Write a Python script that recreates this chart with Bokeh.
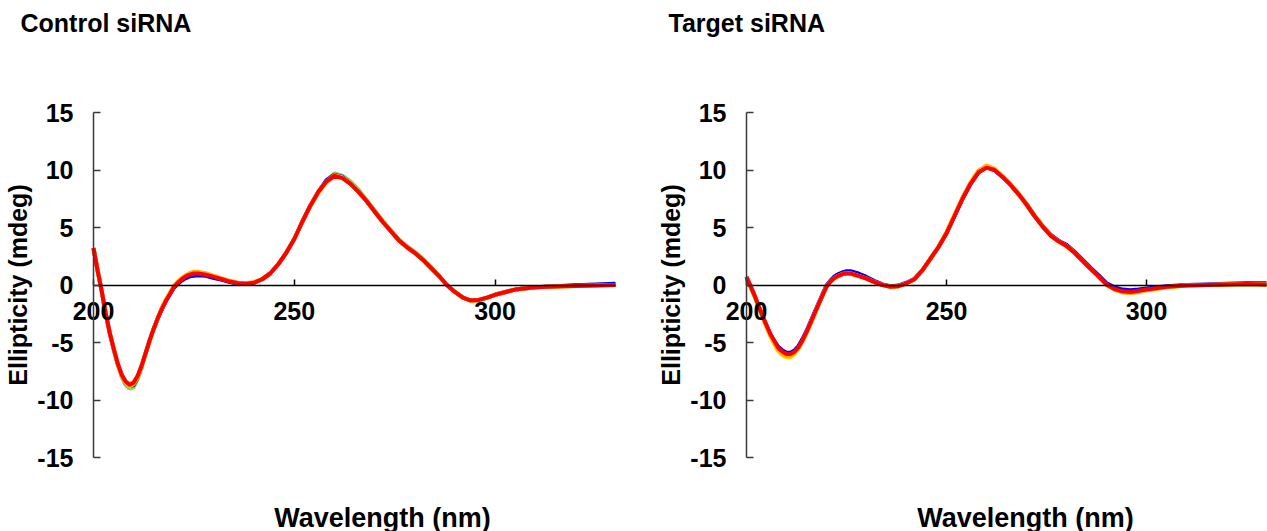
from bokeh.plotting import figure
from bokeh.layouts import row
from bokeh.models import FixedTicker, Range1d, Label, CustomJSTickFormatter
from bokeh.embed import file_html
from bokeh.resources import INLINE

# ---------------- data ----------------
wavelength = [200, 201, 202, 203, 204, 205, 206, 207, 208, 209, 210, 211, 212, 213,
              214, 215, 216, 217, 218, 219, 220, 221, 222, 223, 224, 225, 226,
              228, 230, 232, 234, 236, 238, 240, 242, 244, 246, 248, 250, 252, 254,
              256, 258, 260, 262, 264, 266, 268, 270, 272, 274, 276, 278, 280, 282,
              284, 286, 288, 290, 292, 294, 296, 298, 300,
              305, 310, 315, 320, 325, 330]

x_ticks = [200, 250, 300]
y_ticks = [-15, -10, -5, 0, 5, 10, 15]
x_limits = [200, 330]
y_limits = [-15, 15]

panel_titles = ["Control siRNA", "Target siRNA"]
x_title = "Wavelength (nm)"
y_title = "Ellipticity (mdeg)"
series_names = ["green", "blue", "yellow", "orange", "red"]

# Control siRNA
ctrl_green = [3.2, 1.3, -0.45, -2.4, -4.1, -5.6, -6.9, -8.0, -8.7, -9.0, -8.9, -8.2, -7.2, -6.0, -4.9, -3.8, -2.9, -2.1, -1.4, -0.8, -0.2, 0.2, 0.5, 0.75, 0.9, 1.0, 1.0,
              0.9, 0.7, 0.5, 0.3, 0.15, 0.1, 0.2, 0.5, 1.0, 1.8, 2.8, 4.0, 5.5, 6.9, 8.1, 9.1, 9.7, 9.5, 9.0, 8.3, 7.4, 6.5, 5.6, 4.8, 4.0, 3.4, 2.9, 2.3, 1.6, 0.8, 0.0, -0.6, -1.1, -1.35, -1.3, -1.1, -0.85,
              -0.4, -0.2, -0.1, -0.05, 0.0, 0.05]
ctrl_blue = [3.2, 1.3, -0.45, -2.4, -4.1, -5.5, -6.8, -7.8, -8.5, -8.8, -8.7, -8.0, -7.0, -5.9, -4.8, -3.8, -2.9, -2.1, -1.4, -0.8, -0.25, 0.1, 0.4, 0.6, 0.75, 0.8, 0.85,
             0.8, 0.6, 0.45, 0.25, 0.12, 0.1, 0.2, 0.5, 1.0, 1.8, 2.8, 4.0, 5.5, 6.9, 8.1, 9.1, 9.6, 9.4, 8.8, 8.1, 7.3, 6.4, 5.5, 4.7, 3.9, 3.3, 2.8, 2.2, 1.5, 0.8, 0.0, -0.6, -1.1, -1.35, -1.3, -1.1, -0.85,
             -0.4, -0.2, -0.1, -0.02, 0.05, 0.1]
ctrl_yellow = [3.2, 1.3, -0.45, -2.4, -4.1, -5.5, -6.8, -7.9, -8.5, -8.8, -8.6, -8.0, -7.0, -5.9, -4.8, -3.8, -2.9, -2.0, -1.3, -0.7, -0.1, 0.3, 0.6, 0.85, 1.0, 1.1, 1.1,
               1.0, 0.8, 0.55, 0.35, 0.2, 0.15, 0.25, 0.5, 1.0, 1.8, 2.8, 4.0, 5.5, 6.9, 8.1, 9.0, 9.55, 9.35, 8.8, 8.1, 7.3, 6.4, 5.5, 4.7, 3.9, 3.3, 2.8, 2.2, 1.5, 0.8, 0.0, -0.6, -1.1, -1.4, -1.3, -1.1, -0.85,
               -0.4, -0.2, -0.12, -0.08, -0.05, 0.0]
ctrl_orange = [3.2, 1.3, -0.45, -2.4, -4.1, -5.5, -6.8, -7.8, -8.4, -8.6, -8.45, -7.9, -7.0, -5.9, -4.8, -3.8, -2.9, -2.0, -1.3, -0.7, -0.1, 0.3, 0.6, 0.85, 1.05, 1.15, 1.15,
               1.0, 0.8, 0.55, 0.35, 0.2, 0.15, 0.25, 0.5, 1.0, 1.8, 2.8, 4.0, 5.5, 6.9, 8.0, 8.95, 9.45, 9.3, 8.8, 8.1, 7.3, 6.4, 5.5, 4.7, 3.9, 3.3, 2.8, 2.2, 1.5, 0.8, 0.0, -0.6, -1.1, -1.35, -1.3, -1.1, -0.85,
               -0.4, -0.2, -0.12, -0.08, -0.05, 0.0]
ctrl_red = [3.2, 1.3, -0.45, -2.4, -4.1, -5.5, -6.8, -7.8, -8.4, -8.7, -8.5, -7.9, -7.0, -5.9, -4.8, -3.8, -2.9, -2.1, -1.4, -0.8, -0.2, 0.2, 0.5, 0.75, 0.9, 1.0, 1.0,
            0.9, 0.7, 0.5, 0.3, 0.15, 0.1, 0.2, 0.5, 1.0, 1.8, 2.8, 4.0, 5.5, 6.9, 8.1, 9.0, 9.5, 9.3, 8.8, 8.1, 7.3, 6.4, 5.5, 4.7, 3.9, 3.3, 2.8, 2.2, 1.5, 0.8, 0.0, -0.6, -1.1, -1.35, -1.3, -1.1, -0.85,
            -0.4, -0.2, -0.12, -0.08, -0.05, 0.0]

# Target siRNA
tgt_green = [0.6, -0.2, -1.0, -1.9, -2.8, -3.6, -4.4, -5.0, -5.6, -5.9, -6.1, -6.1, -5.9, -5.5, -4.9, -4.2, -3.4, -2.6, -1.7, -0.9, -0.15, 0.3, 0.6, 0.8, 0.95, 1.0, 1.0,
             0.8, 0.55, 0.25, 0.0, -0.15, -0.1, 0.15, 0.5, 1.3, 2.3, 3.3, 4.5, 6.0, 7.5, 8.8, 9.8, 10.25, 10.05, 9.5, 8.8, 8.0, 7.1, 6.1, 5.2, 4.4, 3.85, 3.4, 2.8, 2.1, 1.4, 0.75, 0.05, -0.35, -0.55, -0.6, -0.5, -0.4,
             -0.15, -0.05, 0.0, 0.05, 0.08, 0.05]
tgt_blue = [0.7, -0.1, -0.9, -1.8, -2.7, -3.5, -4.3, -4.9, -5.4, -5.7, -5.9, -5.9, -5.7, -5.3, -4.7, -4.0, -3.2, -2.4, -1.6, -0.8, -0.05, 0.4, 0.75, 0.95, 1.1, 1.2, 1.2,
            1.0, 0.7, 0.35, 0.05, -0.1, -0.05, 0.2, 0.55, 1.3, 2.3, 3.3, 4.5, 6.0, 7.5, 8.8, 9.8, 10.25, 10.0, 9.4, 8.7, 7.9, 7.0, 6.0, 5.1, 4.35, 3.85, 3.5, 2.9, 2.2, 1.5, 0.85, 0.15, -0.2, -0.4, -0.45, -0.4, -0.3,
            -0.1, 0.0, 0.05, 0.1, 0.15, 0.15]
tgt_yellow = [0.6, -0.2, -1.0, -1.9, -2.8, -3.7, -4.5, -5.2, -5.8, -6.1, -6.3, -6.3, -6.0, -5.5, -4.9, -4.2, -3.4, -2.6, -1.7, -0.9, -0.15, 0.3, 0.6, 0.8, 0.95, 1.0, 1.0,
              0.8, 0.55, 0.25, 0.0, -0.15, -0.1, 0.15, 0.5, 1.3, 2.3, 3.3, 4.6, 6.1, 7.6, 8.9, 9.9, 10.35, 10.1, 9.45, 8.7, 7.9, 7.0, 6.0, 5.1, 4.3, 3.8, 3.4, 2.8, 2.1, 1.4, 0.7, 0.0, -0.4, -0.6, -0.7, -0.6, -0.45,
              -0.2, -0.05, 0.0, 0.05, 0.08, 0.05]
tgt_orange = [0.7, -0.1, -0.9, -1.8, -2.7, -3.6, -4.4, -5.1, -5.7, -6.0, -6.2, -6.2, -5.9, -5.5, -4.9, -4.1, -3.3, -2.5, -1.7, -0.9, -0.15, 0.3, 0.6, 0.8, 0.95, 1.0, 1.0,
              0.8, 0.55, 0.25, 0.0, -0.15, -0.1, 0.15, 0.5, 1.3, 2.3, 3.3, 4.6, 6.1, 7.6, 8.9, 9.95, 10.4, 10.1, 9.45, 8.7, 7.9, 7.0, 6.0, 5.1, 4.3, 3.8, 3.4, 2.8, 2.1, 1.4, 0.7, 0.0, -0.4, -0.65, -0.7, -0.6, -0.45,
              -0.2, -0.05, 0.0, 0.05, 0.08, 0.05]
tgt_red = [0.7, -0.1, -0.9, -1.8, -2.7, -3.5, -4.3, -4.9, -5.5, -5.8, -6.0, -6.0, -5.8, -5.4, -4.8, -4.1, -3.3, -2.5, -1.7, -0.9, -0.15, 0.3, 0.6, 0.8, 0.95, 1.0, 1.0,
           0.8, 0.55, 0.25, 0.0, -0.15, -0.1, 0.15, 0.5, 1.3, 2.3, 3.3, 4.5, 6.0, 7.5, 8.8, 9.8, 10.2, 10.0, 9.4, 8.7, 7.9, 7.0, 6.0, 5.1, 4.3, 3.8, 3.4, 2.8, 2.1, 1.4, 0.75, 0.05, -0.35, -0.55, -0.6, -0.5, -0.4,
           -0.15, -0.05, 0.0, 0.05, 0.08, 0.05]

# ---------------- styling / layout ----------------
COLORS = {"green": "#92D050", "blue": "#0000FF", "yellow": "#FFE600",
          "orange": "#FFB000", "red": "#FF0000"}
FONT = "Liberation Sans"
H = 531
PLOT_TOP, PLOT_BOTTOM = 112, 457          # pixel rows of y = 15 and y = -15


def make_panel(title, series, width, axis_px, right_px, title_px, xlabel_px):
    # the frame fills the whole canvas; axes are placed at fixed locations
    ppx = (right_px - axis_px) / (x_limits[1] - x_limits[0])
    ppy = (PLOT_BOTTOM - PLOT_TOP) / (y_limits[1] - y_limits[0])
    x0 = x_limits[0] - axis_px / ppx
    x1 = x_limits[1] + (width - right_px) / ppx
    y1 = y_limits[1] + PLOT_TOP / ppy
    y0 = y_limits[0] - (H - PLOT_BOTTOM) / ppy

    p = figure(width=width, height=H,
               x_range=Range1d(x0, x1), y_range=Range1d(y0, y1),
               output_backend="svg", toolbar_location=None,
               min_border_left=0, min_border_right=0,
               min_border_top=0, min_border_bottom=0)
    p.outline_line_color = None
    p.grid.visible = False
    p.background_fill_color = "white"
    p.border_fill_color = "white"

    for name in series_names:
        p.line(wavelength, series[name], line_color=COLORS[name], line_width=4)

    xa = p.xaxis[0]
    xa.fixed_location = 0
    xa.bounds = tuple(x_limits)
    xa.ticker = FixedTicker(ticks=x_ticks)
    xa.formatter = CustomJSTickFormatter(code="return String(tick);")
    xa.minor_tick_line_color = None
    xa.major_tick_in = 6
    xa.major_tick_out = 0
    xa.axis_line_color = "black"
    xa.axis_line_width = 1.5
    xa.major_tick_line_color = "black"
    xa.major_tick_line_width = 1.5
    xa.major_label_text_font = FONT
    xa.major_label_text_font_style = "bold"
    xa.major_label_text_font_size = "25px"
    xa.major_label_text_color = "black"
    xa.major_label_standoff = 17

    ya = p.yaxis[0]
    ya.fixed_location = x_limits[0]
    ya.bounds = tuple(y_limits)
    ya.ticker = FixedTicker(ticks=y_ticks)
    ya.formatter = CustomJSTickFormatter(code="return String(tick);")
    ya.minor_tick_line_color = None
    ya.major_tick_in = 7
    ya.major_tick_out = 0
    ya.axis_line_color = "#3a3a3a"
    ya.axis_line_width = 1.5
    ya.major_tick_line_color = "#3a3a3a"
    ya.major_tick_line_width = 1.5
    ya.major_label_text_font = FONT
    ya.major_label_text_font_style = "bold"
    ya.major_label_text_font_size = "25px"
    ya.major_label_text_color = "black"
    ya.major_label_standoff = 20
    ya.axis_label = y_title
    ya.axis_label_text_font = FONT
    ya.axis_label_text_font_style = "bold"
    ya.axis_label_text_font_size = "25px"
    ya.axis_label_text_color = "black"
    ya.axis_label_standoff = 2

    p.add_layout(Label(x=title_px, y=H - 22, x_units="screen", y_units="screen",
                       text=title, text_align="left", text_baseline="middle",
                       text_font=FONT, text_font_style="bold", text_font_size="25px",
                       text_color="black"))
    p.add_layout(Label(x=xlabel_px, y=H - 517, x_units="screen", y_units="screen",
                       text=x_title, text_align="center", text_baseline="middle",
                       text_font=FONT, text_font_style="bold", text_font_size="27px",
                       text_color="black"))
    return p


left = make_panel(panel_titles[0],
                  {"green": ctrl_green, "blue": ctrl_blue, "yellow": ctrl_yellow,
                   "orange": ctrl_orange, "red": ctrl_red},
                  640, 93, 615, 20, 382)
right = make_panel(panel_titles[1],
                   {"green": tgt_green, "blue": tgt_blue, "yellow": tgt_yellow,
                    "orange": tgt_orange, "red": tgt_red},
                   627, 106, 626, 28, 385)

layout = row(left, right)
open("out.html", "w").write(file_html(layout, INLINE))
